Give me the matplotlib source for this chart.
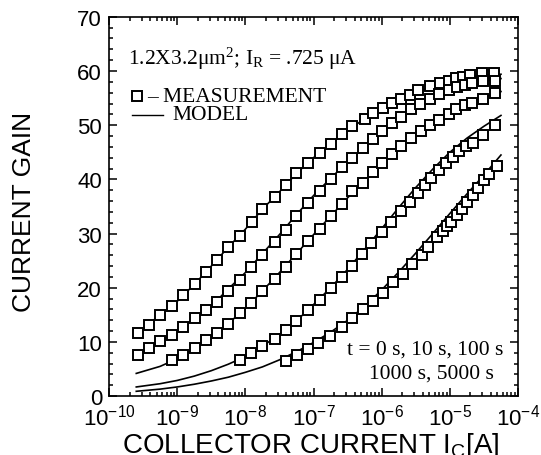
import numpy as np
import matplotlib
matplotlib.use("Agg")
import matplotlib.pyplot as plt
from matplotlib.ticker import LogLocator, MultipleLocator, NullFormatter

plt.rcParams['font.family'] = ['Liberation Sans', 'DejaVu Sans']
plt.rcParams['mathtext.fontset'] = 'custom'
plt.rcParams['mathtext.rm'] = 'Liberation Sans'
plt.rcParams['mathtext.default'] = 'regular'

# measured points: log10 of collector current [A] and current gain
m1_log = [-9.58, -9.41, -9.25, -9.08, -8.91, -8.74, -8.57, -8.41, -8.25, -8.08, -7.90, -7.75,
          -7.57, -7.41, -7.25, -7.08, -6.91, -6.74, -6.58, -6.43, -6.25, -6.12, -5.98, -5.85,
          -5.72, -5.59, -5.47, -5.29, -5.14, -5.01, -4.91, -4.81, -4.71, -4.53, -4.35]
m1_gain = [11.6, 13.1, 15.0, 16.6, 18.6, 20.7, 22.9, 25.2, 27.5, 29.6, 32.1, 34.5,
           36.8, 38.9, 41.1, 43.1, 44.9, 46.6, 48.3, 49.8, 51.2, 52.3, 53.2, 54.1,
           54.9, 55.6, 56.4, 57.2, 57.8, 58.2, 58.7, 58.9, 59.3, 59.6, 59.6]

m2_log = [-9.58, -9.41, -9.25, -9.08, -8.91, -8.74, -8.57, -8.41, -8.25, -8.08, -7.91, -7.75,
          -7.57, -7.41, -7.25, -7.08, -6.91, -6.74, -6.58, -6.43, -6.27, -6.13, -6.00, -5.85,
          -5.72, -5.57, -5.44, -5.29, -5.16, -5.01, -4.89, -4.78, -4.68, -4.51, -4.34]
m2_gain = [7.6, 8.9, 10.1, 11.3, 12.8, 14.4, 15.9, 17.4, 19.4, 21.4, 23.8, 26.0,
           28.4, 30.7, 33.2, 35.6, 37.9, 40.0, 42.2, 44.0, 45.8, 47.4, 48.9, 50.4,
           51.6, 52.9, 53.9, 54.9, 55.7, 56.4, 57.0, 57.5, 57.8, 58.1, 58.2]

m3_log = [-9.08, -8.91, -8.74, -8.57, -8.41, -8.25, -8.08, -7.91, -7.75, -7.57, -7.41, -7.25,
          -7.08, -6.91, -6.74, -6.58, -6.43, -6.27, -6.13, -6.00, -5.85, -5.72, -5.57, -5.42,
          -5.29, -5.16, -5.01, -4.91, -4.78, -4.68, -4.51, -4.34]
m3_gain = [6.7, 7.6, 8.9, 10.3, 11.7, 13.4, 15.3, 17.1, 19.4, 21.7, 23.8, 26.3,
           28.7, 30.9, 33.3, 35.5, 37.8, 39.4, 41.4, 43.1, 44.7, 46.1, 47.7, 48.9,
           50.0, 51.0, 52.0, 52.9, 53.7, 54.1, 54.9, 55.9]

m4_log = [-8.08, -7.91, -7.75, -7.57, -7.41, -7.25, -7.08, -6.91, -6.74, -6.58, -6.43, -6.29,
          -6.15, -6.00, -5.87, -5.72, -5.59, -5.47, -5.37, -5.27, -5.16, -5.06, -4.96, -4.86,
          -4.76, -4.66, -4.51, -4.34]
m4_gain = [6.7, 7.9, 9.2, 10.5, 12.2, 13.9, 15.9, 17.8, 19.9, 22.0, 24.1, 26.3,
           28.2, 30.3, 32.1, 34.1, 35.8, 37.5, 38.9, 40.3, 41.8, 43.0, 44.2, 45.2,
           46.1, 46.8, 48.2, 50.0]

m5_log = [-7.40, -7.24, -7.08, -6.93, -6.76, -6.58, -6.44, -6.28, -6.13, -5.98, -5.84, -5.69,
          -5.56, -5.41, -5.32, -5.19, -5.10, -5.04, -4.98, -4.90, -4.82, -4.75, -4.66, -4.58,
          -4.50, -4.42, -4.31]
m5_gain = [6.5, 7.6, 8.7, 9.9, 11.1, 12.7, 14.4, 16.0, 17.5, 19.1, 21.0, 22.5,
           24.3, 26.0, 27.6, 29.3, 30.5, 31.4, 32.2, 33.5, 34.6, 35.8, 37.2, 38.5,
           39.8, 41.0, 42.4]

# model curves
mod_log = [-9.6, -9.25, -9.0, -8.75, -8.5, -8.25, -8.0, -7.75, -7.5, -7.25, -7.0,
           -6.75, -6.5, -6.25, -6.0, -5.75, -5.5, -5.25, -5.0, -4.75, -4.5, -4.25]
mod1 = [11.5, 15.0, 17.5, 20.6, 24.0, 27.5, 30.8, 34.5, 37.7, 41.1, 44.0,
        46.5, 49.0, 51.2, 53.1, 54.7, 56.0, 57.2, 58.2, 58.8, 59.2, 59.4]
mod2 = [7.5, 10.1, 12.0, 14.3, 16.6, 19.8, 22.8, 26.3, 29.8, 33.5, 37.0,
        40.2, 43.2, 46.0, 48.9, 51.4, 53.5, 55.2, 56.5, 57.5, 58.2, 58.6]
mod3 = [4.2, 5.5, 6.9, 8.8, 10.9, 13.4, 16.2, 19.4, 22.8, 26.3, 29.8,
        33.2, 36.6, 39.7, 43.0, 45.8, 48.4, 50.6, 52.4, 54.0, 55.2, 56.2]
mod4 = [1.7, 2.3, 2.9, 3.7, 4.7, 5.9, 7.3, 9.2, 11.4, 13.9, 16.9,
        20.0, 23.4, 27.1, 30.9, 34.8, 38.5, 41.9, 45.0, 47.6, 49.8, 51.8]
mod5 = [0.9, 1.3, 1.7, 2.2, 2.8, 3.5, 4.4, 5.4, 6.7, 8.2, 9.9,
        11.8, 14.0, 16.6, 19.6, 22.9, 26.4, 30.0, 33.7, 37.3, 40.8, 44.5]

meas = [(m1_log, m1_gain), (m2_log, m2_gain), (m3_log, m3_gain),
        (m4_log, m4_gain), (m5_log, m5_gain)]
models = [mod1, mod2, mod3, mod4, mod5]

fig = plt.figure(figsize=(5.41, 4.56), dpi=100)
ax = fig.add_axes([0.2015, 0.129, 0.756, 0.832])

for g in models:
    ax.plot(10.0 ** np.array(mod_log), g, color='black', lw=1.2)
for xl, g in meas:
    ax.plot(10.0 ** np.array(xl), g, ls='none', marker='s', ms=6.8, mfc='white',
            mec='black', mew=1.4)

ax.set_xscale('log')
ax.set_xlim(1e-10, 1e-4)
ax.set_ylim(0, 70)
ax.xaxis.set_major_locator(LogLocator(base=10, numticks=10))
ax.xaxis.set_minor_locator(LogLocator(base=10, subs=np.arange(2, 10), numticks=10))
ax.xaxis.set_minor_formatter(NullFormatter())
ax.yaxis.set_major_locator(MultipleLocator(10))
ax.yaxis.set_minor_locator(MultipleLocator(2))
ax.tick_params(which='both', direction='in', top=True, right=True, width=1.1, labelsize=16)
ax.tick_params(which='major', length=6, pad=5)
ax.tick_params(which='minor', length=3)
for s in ax.spines.values():
    s.set_linewidth(1.2)

ax.set_xlabel('COLLECTOR CURRENT $I_C$[A]', fontsize=20)
ax.set_ylabel('CURRENT GAIN', fontsize=19)
ax.xaxis.set_label_coords(0.494, -0.09)
ax.yaxis.set_label_coords(-0.178, 0.487)

serif = ['Liberation Serif', 'DejaVu Serif']
fs = 15.5
ax.text(0.046, 0.891, '1.2X3.2\u03bcm$^2$; I$_R$ = .725 \u03bcA', transform=ax.transAxes,
        family=serif, fontsize=fs, va='center', ha='left')
ax.plot([0.068], [0.790], transform=ax.transAxes, marker='s', ms=6.8, mfc='white',
        mec='black', mew=1.4, ls='none')
ax.text(0.093, 0.790, '\u2013 MEASUREMENT', transform=ax.transAxes, family=serif,
        fontsize=fs, va='center', ha='left')
ax.plot([0.055, 0.131], [0.742, 0.742], transform=ax.transAxes, color='black', lw=1.0)
ax.text(0.154, 0.742, 'MODEL', transform=ax.transAxes, family=serif,
        fontsize=fs, va='center', ha='left')
ax.text(0.964, 0.124, 't = 0 s, 10 s, 100 s', transform=ax.transAxes, family=serif,
        fontsize=fs, va='center', ha='right')
ax.text(0.942, 0.062, '1000 s, 5000 s', transform=ax.transAxes, family=serif,
        fontsize=fs, va='center', ha='right')

fig.savefig('out.png', dpi=100)
